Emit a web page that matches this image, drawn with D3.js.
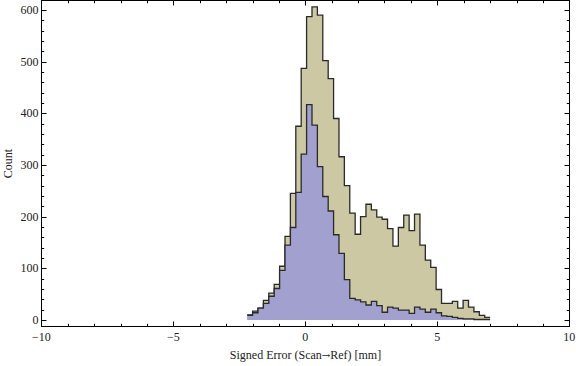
<!DOCTYPE html>
<html>
<head>
<meta charset="utf-8">
<script src="https://cdn.jsdelivr.net/npm/d3@7"></script>
<style>
  html, body { margin: 0; padding: 0; background: #fff; }
  svg { display: block; }
  text { font-family: "Liberation Serif", "Times New Roman", serif; font-size: 12px; fill: #222; }
</style>
</head>
<body>
<svg id="chart" width="576" height="366"></svg>
<script>
// ---- data ----
const binStart = -2.2;
const binEnd = 7.0;
// total (tan) histogram counts per bin
const totalCounts = [10, 17, 23, 38, 52, 69, 104, 162, 245, 375,
  487, 587, 606, 590, 502, 467, 390, 316, 260, 207,
  166, 200, 224, 213, 199, 195, 177, 143, 179, 203,
  173, 205, 145, 116, 102, 59, 32, 32, 36, 23,
  38, 25, 16, 9, 5];
// subset (blue) histogram counts per bin
const subsetCounts = [9, 14, 23, 32, 46, 61, 96, 145, 179, 247,
  321, 417, 377, 297, 239, 211, 165, 129, 78, 42,
  39, 35, 29, 36, 28, 15, 25, 23, 19, 19,
  13, 25, 21, 15, 21, 14, 8, 7, 5, 3,
  2, 2, 1, 1, 1];
const xMajorTicks = [-10, -5, 0, 5, 10];
const xMinorTicks = [-9, -8, -7, -6, -4, -3, -2, -1, 1, 2, 3, 4, 6, 7, 8, 9];
const yMajorTicks = [0, 100, 200, 300, 400, 500, 600];
const yMinorTicks = [20, 40, 60, 80, 120, 140, 160, 180, 220, 240, 260, 280, 320, 340, 360, 380, 420, 440, 460, 480, 520, 540, 560, 580, 620];
const xTitleParts = ["Signed Error (Scan", "\u2192", "Ref) [mm]"];
const yTitle = "Count";

// ---- layout ----
const frame = { left: 41.5, right: 569.5, top: 0.5, bottom: 326.5 };
const x = d3.scaleLinear().domain([-10, 10]).range([41.3, 569.3]);
const y = d3.scaleLinear().domain([0, 600]).range([320, 10]);

const svg = d3.select("#chart");

function edges(n) {
  const w = (binEnd - binStart) / n;
  return d3.range(n + 1).map(i => binStart + i * w);
}

function drawHist(counts, fill) {
  const e = edges(counts.length);
  const fillPts = [[x(e[0]), y(0)]];
  const linePts = [];
  counts.forEach((c, i) => {
    fillPts.push([x(e[i]), y(c)], [x(e[i + 1]), y(c)]);
    linePts.push([x(e[i]), y(c)], [x(e[i + 1]), y(c)]);
  });
  fillPts.push([x(e[e.length - 1]), y(0)]);
  const line = d3.line();
  svg.append("path").attr("d", line(fillPts) + "Z").attr("fill", fill).attr("stroke", "none");
  svg.append("path").attr("d", line(linePts)).attr("fill", "none")
    .attr("stroke", "#2a2a2a").attr("stroke-width", 1.3).attr("stroke-linejoin", "miter");
}

drawHist(totalCounts, "#ccc8a3");
drawHist(subsetCounts, "#a1a0ce");

// ---- frame ----
svg.append("rect")
  .attr("x", frame.left).attr("y", frame.top)
  .attr("width", frame.right - frame.left).attr("height", frame.bottom - frame.top)
  .attr("fill", "none").attr("stroke", "#000").attr("stroke-width", 1);

const tickG = svg.append("g").attr("stroke", "#000").attr("stroke-width", 1);
const majLen = 5, minLen = 2.7;
function xTick(v, len) {
  const px = Math.round(x(v)) + 0.5;
  tickG.append("line").attr("x1", px).attr("x2", px).attr("y1", frame.bottom).attr("y2", frame.bottom - len);
  tickG.append("line").attr("x1", px).attr("x2", px).attr("y1", frame.top).attr("y2", frame.top + len);
}
function yTick(v, len) {
  const py = Math.round(y(v)) + 0.5;
  if (py < frame.top || py > frame.bottom) return;
  tickG.append("line").attr("x1", frame.left).attr("x2", frame.left + len).attr("y1", py).attr("y2", py);
  tickG.append("line").attr("x1", frame.right).attr("x2", frame.right - len).attr("y1", py).attr("y2", py);
}
xMajorTicks.forEach(v => xTick(v, majLen));
xMinorTicks.forEach(v => xTick(v, minLen));
yMajorTicks.forEach(v => yTick(v, majLen));
yMinorTicks.forEach(v => yTick(v, minLen));

// ---- tick labels ----
const fmt = v => (v < 0 ? "\u2212" + Math.abs(v) : String(v));
svg.append("g").selectAll("text").data(xMajorTicks).join("text")
  .attr("x", d => x(d)).attr("y", 341)
  .attr("text-anchor", "middle")
  .text(fmt);
svg.append("g").selectAll("text").data(yMajorTicks).join("text")
  .attr("x", 38.5).attr("y", d => y(d) + 4)
  .attr("text-anchor", "end")
  .text(fmt);

// ---- titles ----
const xt = svg.append("text").attr("x", (frame.left + frame.right) / 2).attr("y", 359)
  .attr("text-anchor", "middle");
xt.append("tspan").text(xTitleParts[0]);
xt.append("tspan").style("font-family", "'DejaVu Serif', serif").style("font-size", "10px").text(xTitleParts[1]);
xt.append("tspan").text(xTitleParts[2]);
svg.append("text")
  .attr("transform", `translate(12,${(frame.top + frame.bottom) / 2}) rotate(-90)`)
  .attr("text-anchor", "middle").text(yTitle);
</script>
</body>
</html>
